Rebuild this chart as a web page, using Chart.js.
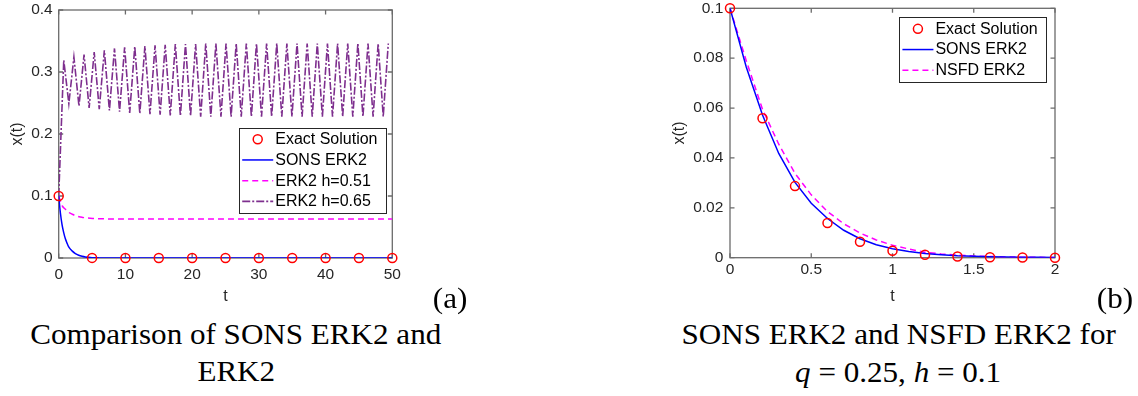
<!DOCTYPE html>
<html>
<head>
<meta charset="utf-8">
<script src="https://cdn.jsdelivr.net/npm/chart.js@4.4.1/dist/chart.umd.min.js"></script>
<style>
  html, body { margin: 0; padding: 0; background: #fff; }
  body { width: 1138px; height: 396px; position: relative; overflow: hidden; }
  canvas { position: absolute; top: 0; }
  #chartA { left: 0; }
  #chartB { left: 620px; }
  .cap {
    position: absolute;
    font-family: "Liberation Serif", "DejaVu Serif", serif;
    font-size: 29px;
    color: #000;
    white-space: nowrap;
    line-height: 1;
    transform-origin: center center;
  }
</style>
</head>
<body>
<canvas id="chartA" width="470" height="315"></canvas>
<canvas id="chartB" width="480" height="315"></canvas>

<div class="cap" data-cx="450" data-cy="298">(a)</div>
<div class="cap" data-cx="1115" data-cy="298">(b)</div>
<div class="cap" id="capRef" data-cx="235.5" data-cy="334">Comparison of SONS ERK2 and</div>
<div class="cap" data-cx="236" data-cy="371">ERK2</div>
<div class="cap" data-cx="898.5" data-cy="334">SONS ERK2 and NSFD ERK2 for</div>
<div class="cap" data-cx="898" data-cy="372"><i>q</i> = 0.25, <i>h</i> = 0.1</div>

<script>
// ---------- (a) SONS ERK2 vs. ERK2 over t in [0, 50] ----------
const leftXTicks = [0, 10, 20, 30, 40, 50];
const leftYTicks = [0, 0.1, 0.2, 0.3, 0.4];

const leftExactT = [0, 5, 10, 15, 20, 25, 30, 35, 40, 45, 50];
const leftExactX = [0.1, 0.0002, 0, 0, 0, 0, 0, 0, 0, 0, 0];

const leftSonsT = [0, 0.25, 0.5, 0.75, 1, 1.25, 1.5, 2, 2.5, 3, 3.5, 4, 5, 6, 8, 50];
const leftSonsX = [0.1, 0.073, 0.054, 0.041, 0.031, 0.024, 0.018, 0.0115, 0.0072,
                   0.0045, 0.0028, 0.0017, 0.0006, 0.0002, 0.00003, 0];

const erk051T = [0, 0.51, 1.02, 1.53, 2.04, 2.55, 3.06, 3.57, 4.08, 5.1, 6.12, 7.14, 8.16, 10.2, 50];
const erk051X = [0.1, 0.0845, 0.0785, 0.0735, 0.0705, 0.068, 0.0665, 0.0655, 0.0647,
                 0.0638, 0.0633, 0.0631, 0.063, 0.0629, 0.0629];

// ERK2 with h = 0.65: period-two oscillation, sampled at a fixed spacing along t
const erk065Step = 0.76;
const erk065X = [0.1,
  0.319, 0.249, 0.324, 0.245, 0.328, 0.242, 0.332, 0.240, 0.335, 0.238,
  0.338, 0.236, 0.340, 0.234, 0.341, 0.233, 0.342, 0.232, 0.343, 0.231,
  0.344, 0.230, 0.345, 0.229, 0.345, 0.229, 0.345, 0.228, 0.346, 0.228,
  0.346, 0.228, 0.346, 0.228, 0.346, 0.228, 0.346, 0.228, 0.346, 0.228,
  0.346, 0.228, 0.346, 0.228, 0.346, 0.228, 0.346, 0.228, 0.346, 0.228,
  0.346, 0.228, 0.346, 0.228, 0.346, 0.228, 0.346, 0.228, 0.346, 0.228,
  0.346, 0.228, 0.346, 0.228,
  0.346];

// ---------- (b) SONS ERK2 vs. NSFD ERK2 over t in [0, 2] ----------
const rightXTicks = [0, 0.5, 1, 1.5, 2];
const rightYTicks = [0, 0.02, 0.04, 0.06, 0.08, 0.1];

const rightExactT = [0, 0.2, 0.4, 0.6, 0.8, 1.0, 1.2, 1.4, 1.6, 1.8, 2.0];
const rightExactX = [0.1, 0.0559, 0.0287, 0.0139, 0.0064, 0.0028, 0.0012, 0.0005, 0.0002, 0.0001, 0];

const rightT = [0, 0.1, 0.2, 0.3, 0.4, 0.5, 0.6, 0.7, 0.8, 0.9, 1.0,
                1.1, 1.2, 1.3, 1.4, 1.5, 1.6, 1.7, 1.8, 1.9, 2.0];
const rightSonsX = [0.1, 0.0765, 0.0572, 0.0418, 0.0302, 0.0218, 0.0157, 0.0110, 0.0076, 0.0052, 0.0036,
                    0.0025, 0.0017, 0.0012, 0.0008, 0.0006, 0.0004, 0.0003, 0.0002, 0.00015, 0.0001];
const rightNsfdX = [0.1, 0.079, 0.0595, 0.0455, 0.0338, 0.0252, 0.0185, 0.0136, 0.0099, 0.0071, 0.0050,
                    0.0035, 0.0022, 0.0015, 0.0010, 0.0007, 0.0005, 0.0003, 0.0002, 0.00015, 0.0001];

// ---------- styling ----------
const INK = '#262626';
const AXIS = '#6b6b6b';
const SANS = '"Liberation Sans", Arial, Helvetica, sans-serif';
const RED = '#ff0000', BLUE = '#0000ff', MAGENTA = '#ff00ff', PURPLE = '#7e2f8e';

const pts = (ts, xs) => xs.map((v, i) => ({ x: ts[i], y: v }));

function markerSet(label, ts, xs) {
  return {
    label, data: pts(ts, xs), showLine: false,
    pointStyle: 'circle', pointRadius: 4.5, pointHoverRadius: 4.5,
    pointBorderColor: RED, pointBackgroundColor: 'rgba(0,0,0,0)', pointBorderWidth: 1.5,
    clip: false, order: 0
  };
}
function lineSet(label, data, color, dash, smooth, order, width) {
  const d = {
    label, data, showLine: true, pointRadius: 0, pointHoverRadius: 0,
    borderColor: color, backgroundColor: color, borderWidth: width || 1.5,
    borderDash: dash, tension: 0, order
  };
  if (smooth) d.cubicInterpolationMode = 'monotone';
  return d;
}

// Box around the plot area with inward tick marks on all four sides
const axesBox = {
  id: 'axesBox',
  beforeDatasetsDraw(chart) {
    const { ctx, chartArea: a, scales: { x, y } } = chart;
    const L = 4.5;
    ctx.save();
    ctx.strokeStyle = AXIS;
    ctx.lineWidth = 1.3;
    ctx.strokeRect(a.left, a.top, a.right - a.left, a.bottom - a.top);
    ctx.beginPath();
    x.ticks.forEach(t => {
      const px = x.getPixelForValue(t.value);
      ctx.moveTo(px, a.bottom); ctx.lineTo(px, a.bottom - L);
      ctx.moveTo(px, a.top); ctx.lineTo(px, a.top + L);
    });
    y.ticks.forEach(t => {
      const py = y.getPixelForValue(t.value);
      ctx.moveTo(a.left, py); ctx.lineTo(a.left + L, py);
      ctx.moveTo(a.right, py); ctx.lineTo(a.right - L, py);
    });
    ctx.stroke();
    ctx.restore();
  }
};

// Boxed legend placed inside the plot area
const insetLegend = {
  id: 'insetLegend',
  afterDatasetsDraw(chart, args, o) {
    const { ctx, chartArea } = chart;
    const items = chart.data.datasets;
    ctx.save();
    ctx.font = '16px ' + SANS;
    const textW = Math.max(...items.map(d => ctx.measureText(d.label).width));
    const w = o.sampleLeft + o.sampleLen + o.gap + textW + o.padRight;
    const h = o.rowH * items.length + o.padV * 2;
    const x = chartArea.right - o.right - w;
    const y = chartArea.top + o.top;
    ctx.fillStyle = '#fff';
    ctx.fillRect(x, y, w, h);
    ctx.strokeStyle = INK;
    ctx.lineWidth = 1;
    ctx.strokeRect(Math.round(x) + 0.5, Math.round(y) + 0.5, Math.round(w), Math.round(h));
    items.forEach((d, i) => {
      const cy = y + o.padV + o.rowH * (i + 0.5);
      const sx = x + o.sampleLeft;
      if (d.showLine === false) {
        ctx.beginPath();
        ctx.arc(sx + o.sampleLen / 2, cy, d.pointRadius, 0, Math.PI * 2);
        ctx.strokeStyle = d.pointBorderColor;
        ctx.lineWidth = d.pointBorderWidth;
        ctx.setLineDash([]);
        ctx.stroke();
      } else {
        ctx.beginPath();
        ctx.moveTo(sx, cy); ctx.lineTo(sx + o.sampleLen, cy);
        ctx.strokeStyle = d.borderColor;
        ctx.lineWidth = d.borderWidth;
        ctx.setLineDash(d.borderDash || []);
        ctx.stroke();
        ctx.setLineDash([]);
      }
      ctx.fillStyle = '#000';
      ctx.textAlign = 'left';
      ctx.textBaseline = 'middle';
      ctx.fillText(d.label, sx + o.sampleLen + o.gap, cy + 0.5);
    });
    ctx.restore();
  }
};

function makeChart(id, c) {
  const tickFont = { family: SANS, size: 15.5 };
  const titleFont = { family: SANS, size: 16 };
  return new Chart(document.getElementById(id), {
    type: 'scatter',
    data: { datasets: c.datasets },
    options: {
      responsive: false, animation: false, devicePixelRatio: 1,
      events: [],
      layout: { padding: { top: c.padTop, right: c.padRight, left: 0, bottom: 0 } },
      plugins: { legend: { display: false }, tooltip: { enabled: false }, insetLegend: c.legend },
      scales: {
        x: {
          type: 'linear', min: c.xTicks[0], max: c.xTicks[c.xTicks.length - 1],
          grid: { display: false, drawTicks: false }, border: { display: false },
          afterBuildTicks: s => { s.ticks = c.xTicks.map(v => ({ value: v })); },
          afterFit: s => { s.height = c.xHeight; s.paddingLeft = 0; s.paddingRight = 0; },
          ticks: { color: INK, font: tickFont, padding: c.xTickPad, maxRotation: 0, autoSkip: false,
                   callback: v => String(v) },
          title: { display: true, text: 't', color: INK, font: titleFont,
                   padding: { top: 0, bottom: 8.4 } }
        },
        y: {
          type: 'linear', min: c.yTicks[0], max: c.yTicks[c.yTicks.length - 1],
          grid: { display: false, drawTicks: false }, border: { display: false },
          afterBuildTicks: s => { s.ticks = c.yTicks.map(v => ({ value: v })); },
          afterFit: s => { s.width = c.yWidth; s.paddingTop = 0; s.paddingBottom = 0; },
          ticks: { color: INK, font: tickFont, padding: c.yTickPad, autoSkip: false,
                   callback: v => String(v) },
          title: { display: true, text: 'x(t)', color: INK, font: titleFont,
                   padding: { top: c.yTitlePad, bottom: 0 } }
        }
      }
    },
    plugins: [axesBox, insetLegend]
  });
}

makeChart('chartA', {
  xTicks: leftXTicks, yTicks: leftYTicks,
  padTop: 10, padRight: 77.7, xHeight: 57, yWidth: 58.7, yTitlePad: 8.4,
  xTickPad: 7, yTickPad: 6,
  legend: { right: 6.3, top: 117.7, sampleLeft: 3.7, sampleLen: 31, gap: 2,
            padRight: 8.5, rowH: 20.7, padV: 1.2 },
  datasets: [
    markerSet('Exact Solution', leftExactT, leftExactX),
    lineSet('SONS ERK2', pts(leftSonsT, leftSonsX), BLUE, [], true, 1),
    lineSet('ERK2 h=0.51', pts(erk051T, erk051X), MAGENTA, [6, 4], true, 2),
    lineSet('ERK2 h=0.65', erk065X.map((v, i) => ({ x: i * erk065Step, y: v })), PURPLE,
            [8, 2, 2, 2], false, 3, 1.6)
  ]
});

makeChart('chartB', {
  xTicks: rightXTicks, yTicks: rightYTicks,
  padTop: 8.3, padRight: 45, xHeight: 57.3, yWidth: 110, yTitlePad: 50.4,
  xTickPad: 2.5, yTickPad: 6.7,
  legend: { right: 9.3, top: 9, sampleLeft: 3.3, sampleLen: 31, gap: 2,
            padRight: 8, rowH: 20.7, padV: 1.2 },
  datasets: [
    markerSet('Exact Solution', rightExactT, rightExactX),
    lineSet('SONS ERK2', pts(rightT, rightSonsX), BLUE, [], false, 1),
    lineSet('NSFD ERK2', pts(rightT, rightNsfdX), MAGENTA, [6, 4], false, 2)
  ]
});

// Caption layout: centre each line on its anchor and widen the serif face to the
// typeset line width of the first caption line.
(function layoutCaptions() {
  const ref = document.getElementById('capRef');
  const sx = 411 / ref.getBoundingClientRect().width;
  document.querySelectorAll('.cap').forEach(el => {
    const r = el.getBoundingClientRect();
    el.style.left = (parseFloat(el.dataset.cx) - r.width / 2) + 'px';
    el.style.top = (parseFloat(el.dataset.cy) - r.height / 2) + 'px';
    el.style.transform = 'scaleX(' + sx + ')';
  });
})();
</script>
</body>
</html>
